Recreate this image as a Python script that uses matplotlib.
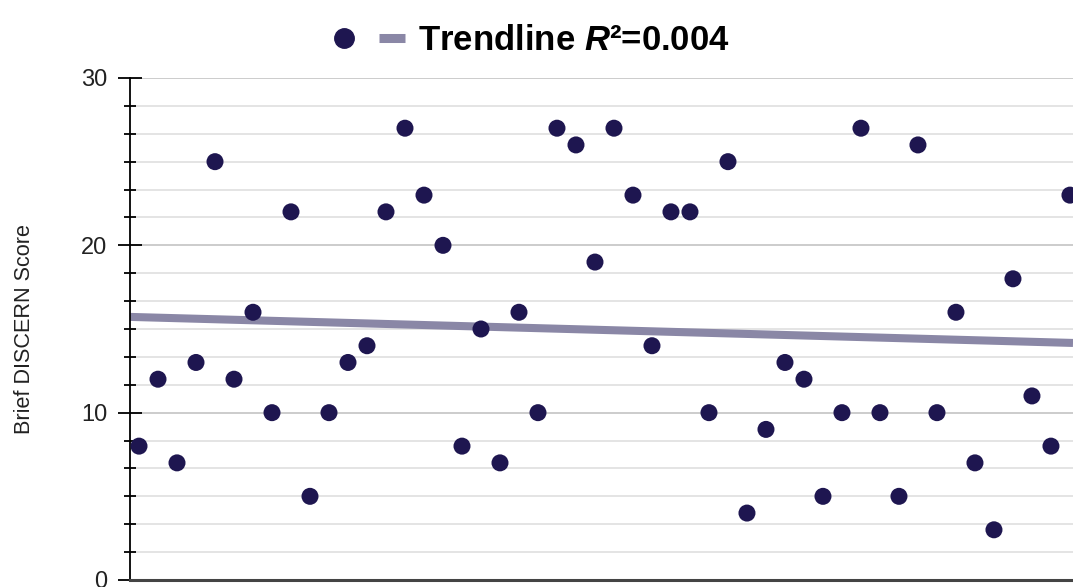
import matplotlib.pyplot as plt
from matplotlib.lines import Line2D
import numpy as np

plt.rcParams['font.family'] = ['Liberation Sans', 'DejaVu Sans']
plt.rcParams['mathtext.fontset'] = 'custom'
plt.rcParams['mathtext.bfit'] = 'Liberation Sans:bold:italic'
plt.rcParams['mathtext.it'] = 'Liberation Sans:italic'
plt.rcParams['mathtext.bf'] = 'Liberation Sans:bold'
plt.rcParams['mathtext.rm'] = 'Liberation Sans'

# one point per video, in order
videos = np.arange(1, 51)
scores = [8, 12, 7, 13, 25, 12, 16, 10, 22, 5,
          10, 13, 14, 22, 27, 23, 20, 8, 15, 7,
          16, 10, 27, 26, 19, 27, 23, 14, 22, 22,
          10, 25, 4, 9, 13, 12, 5, 10, 27, 10,
          5, 26, 10, 16, 7, 3, 18, 11, 8, 23]

dot_col = "#1e1650"
trend_col = "#8a87a6"

# linear trendline
slope, icpt = np.polyfit(videos, scores, 1)
r2 = np.corrcoef(videos, scores)[0, 1] ** 2

fig = plt.figure(figsize=(10.73, 5.87), dpi=100)
ax = fig.add_axes([130 / 1073, 1 - 580 / 587, 1 - 130 / 1073, (580 - 78) / 587])

xmin, xmax = 0.526, 50.16
xs = np.array([xmin, xmax])
ax.plot(xs, slope * xs + icpt, color=trend_col, lw=5.8, solid_capstyle='butt', zorder=2)
ax.scatter(videos, scores, s=150, color=dot_col, edgecolors='none', zorder=3, clip_on=False)

ax.set_xlim(xmin, xmax)
ax.set_ylim(0, 30)
ax.set_yticks([0, 10, 20, 30])
ax.set_yticks(np.arange(0, 30.01, 10 / 6), minor=True)
ax.grid(axis='y', which='minor', color='#e2e2e2', lw=1.3, zorder=0)
ax.grid(axis='y', which='major', color='#c8c8c8', lw=1.3, zorder=0)
ax.set_axisbelow(True)
ax.set_xticks([])

for s in ['top', 'right']:
    ax.spines[s].set_visible(False)
ax.spines['left'].set_color('black')
ax.spines['left'].set_linewidth(1.3)
ax.spines['bottom'].set_color('#444444')
ax.spines['bottom'].set_linewidth(2.2)

ax.tick_params(axis='y', which='major', direction='inout', length=17, width=1.3,
               labelsize=17, pad=8, colors='black')
ax.tick_params(axis='y', which='minor', direction='inout', length=9, width=1.3)
for lab in ax.get_yticklabels():
    lab.set_color('#222222')

ax.set_ylabel("Brief DISCERN Score", fontsize=15.6, color='#222222', labelpad=33)

handles = [Line2D([], [], ls='none', marker='o', ms=14, color=dot_col),
           Line2D([], [], color=trend_col, lw=6.5, solid_capstyle='butt')]
labels = ["", "Trendline $\\mathbfit{R}$²=%.3f" % r2]
fig.legend(handles, labels, loc='upper center', bbox_to_anchor=(0.494, 1.012), ncol=2,
           frameon=False, prop={'family': 'Liberation Sans', 'weight': 'bold', 'size': 25},
           handlelength=0.75, handletextpad=0.35, columnspacing=0.3)

fig.savefig("out.png", dpi=100)
